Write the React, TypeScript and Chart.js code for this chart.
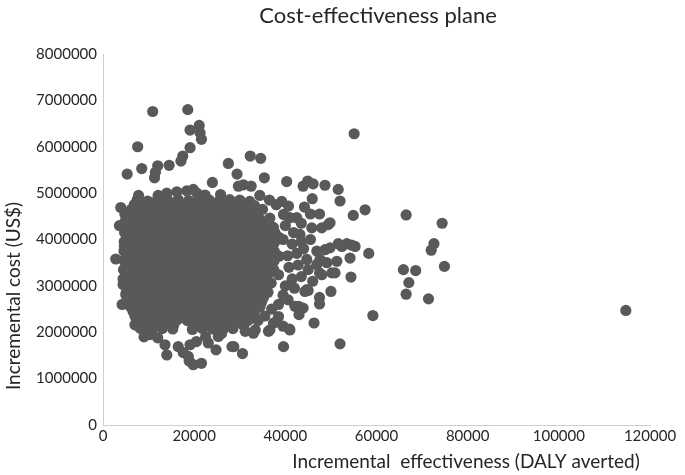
import React, { useEffect, useRef } from "react";
import { Chart, registerables } from "chart.js";

Chart.register(...registerables);

const chartTitle = "Cost-effectiveness plane";
const xAxisTitle = "Incremental  effectiveness (DALY averted)";
const yAxisTitle = "Incremental cost (US$)";

const xTicks = [0, 20000, 40000, 60000, 80000, 100000, 120000];
const yTicks = [0, 1000000, 2000000, 3000000, 4000000, 5000000, 6000000, 7000000, 8000000];

// [DALY averted, incremental cost US$]
const upperOutliers: [number, number][] = [
  [10900, 6760000], [18600, 6800000], [19100, 6360000], [21100, 6460000], [21300, 6300000],
  [21600, 6160000], [7600, 6000000], [19100, 5980000], [17500, 5800000], [17100, 5690000],
  [14500, 5600000], [12000, 5590000], [11500, 5450000], [11300, 5330000], [8500, 5530000],
  [5300, 5410000], [27500, 5640000], [29400, 5410000], [32300, 5800000], [34600, 5750000],
  [35400, 5330000], [24000, 5230000], [30800, 5180000], [32500, 5150000], [29700, 5150000],
  [40300, 5250000], [43900, 5150000], [44900, 5260000], [46100, 5200000], [48700, 5170000],
  [51600, 5080000], [52000, 4830000], [45900, 4880000], [44200, 4700000], [39200, 4820000],
  [40700, 4720000], [34400, 4950000], [57500, 4640000], [54900, 4520000], [55100, 6280000],
  [49800, 4360000], [19800, 5080000], [7800, 4950000], [12100, 4950000], [3900, 4690000],
  [5000, 4430000], [14000, 5000000], [16200, 5030000], [18400, 5050000], [20600, 5000000],
  [22400, 4960000], [25800, 4970000], [38000, 4750000], [36500, 4850000],
];

const rightOutliers: [number, number][] = [
  [66500, 4530000], [74400, 4350000], [72600, 3910000], [72000, 3770000], [74900, 3420000],
  [65900, 3350000], [68600, 3330000], [67100, 3070000], [66500, 2820000], [71400, 2720000],
  [114700, 2470000], [58300, 3700000], [54400, 3190000], [59200, 2360000],
];

const rightScatter: [number, number][] = [
  [42500, 4470000], [41000, 4470000], [39600, 4540000], [43200, 4110000], [45800, 4250000],
  [48000, 4250000], [49400, 4320000], [46900, 3750000], [48700, 3780000], [49800, 3820000],
  [51600, 3910000], [53500, 3910000], [54500, 3880000], [54200, 3600000], [52400, 3850000],
  [55300, 3850000], [47600, 3570000], [46900, 3460000], [49100, 3500000], [51300, 3530000],
  [44700, 3570000], [50200, 3280000], [47500, 3280000], [45000, 3350000], [50900, 3280000],
  [48000, 3240000], [44700, 2920000], [45000, 2900000], [50000, 2880000], [47500, 2750000],
  [47500, 2610000], [43900, 2520000], [42900, 2560000], [43000, 2380000], [42100, 2560000],
  [40600, 2700000], [46300, 2200000], [41000, 2050000], [39500, 2130000], [36300, 2020000],
  [33400, 2050000], [31200, 2020000], [38500, 2340000], [37400, 2200000], [44300, 2880000],
  [40000, 4300000], [41800, 4150000], [39500, 4000000], [41500, 3900000], [43500, 3950000],
  [45500, 4000000], [40500, 3650000], [42500, 3700000], [44000, 3800000], [40800, 3400000],
  [42800, 3450000], [41500, 3150000], [43500, 3200000], [40000, 3000000], [42000, 2950000],
  [39500, 2800000], [38500, 2600000], [37000, 2500000], [35500, 2350000], [34000, 2250000],
  [45500, 4550000], [47500, 4550000], [43500, 4350000], [46000, 3100000],
];

const lowerScatter: [number, number][] = [
  [2800, 3580000], [4700, 3850000], [5600, 4120000], [5700, 3350000], [4400, 3030000],
  [5000, 2810000], [6600, 2490000], [7000, 2160000], [8100, 2090000], [10300, 1950000],
  [13600, 1730000], [14000, 1510000], [16500, 1690000], [19100, 1730000], [18700, 1480000],
  [19800, 1300000], [21600, 1330000], [18900, 1380000], [24800, 1620000], [23100, 1770000],
  [25300, 1910000], [26000, 1970000], [33000, 1980000], [36600, 2050000], [37700, 2210000],
  [40900, 2070000], [52000, 1750000], [39600, 1690000], [30600, 1540000], [28700, 1690000],
  [12000, 1880000], [9000, 1900000], [17600, 1560000], [20500, 1800000], [22500, 1900000],
  [28300, 1690000], [3600, 4300000], [4200, 2600000],
];

const coreUpper: [number, number][] = [
  [7500, 4850000], [9800, 4830000], [12000, 4870000], [14200, 4850000], [16500, 4860000],
  [18800, 4840000], [21000, 4870000], [23300, 4850000], [25500, 4830000], [27800, 4860000],
  [30000, 4850000], [32200, 4820000],
  [6200, 4650000], [8300, 4670000], [10500, 4640000], [12700, 4660000], [15000, 4650000],
  [17200, 4630000], [19400, 4660000], [21600, 4650000], [23900, 4670000], [26100, 4640000],
  [28300, 4650000], [30600, 4660000], [32800, 4630000], [35000, 4650000],
  [5600, 4450000], [7700, 4440000], [9900, 4460000], [12100, 4450000], [14300, 4430000],
  [16600, 4460000], [18800, 4450000], [21000, 4440000], [23200, 4470000], [25500, 4450000],
  [27700, 4430000], [29900, 4460000], [32100, 4450000], [34400, 4440000], [36600, 4460000],
  [6300, 4250000], [8500, 4260000], [10700, 4240000], [12900, 4250000], [15100, 4270000],
  [17400, 4250000], [19600, 4230000], [21800, 4260000], [24000, 4250000], [26300, 4240000],
  [28500, 4260000], [30700, 4250000], [32900, 4230000], [35200, 4250000], [37400, 4260000],
  [5400, 4050000], [7600, 4060000], [9800, 4040000], [12000, 4050000], [14200, 4070000],
  [16500, 4050000], [18700, 4030000], [20900, 4060000], [23100, 4050000], [25400, 4040000],
  [27600, 4060000], [29800, 4050000], [32000, 4030000], [34300, 4050000], [36500, 4060000],
  [38700, 4040000],
  [6100, 3850000], [8300, 3860000], [10500, 3840000], [12700, 3850000], [14900, 3870000],
  [17200, 3850000], [19400, 3830000], [21600, 3860000], [23800, 3850000], [26100, 3840000],
  [28300, 3860000], [30500, 3850000], [32700, 3830000], [35000, 3850000], [37200, 3860000],
  [5300, 3650000], [7500, 3660000], [9700, 3640000], [11900, 3650000], [14100, 3670000],
  [16400, 3650000], [18600, 3630000], [20800, 3660000], [23000, 3650000], [25300, 3640000],
  [27500, 3660000], [29700, 3650000], [31900, 3630000], [34200, 3650000], [36400, 3660000],
  [38600, 3640000],
];

const coreUpperFill: [number, number][] = [
  [6850, 4750000], [9050, 4760000], [11250, 4740000], [13450, 4750000], [15650, 4770000],
  [17850, 4750000], [20050, 4730000], [22250, 4760000], [24450, 4750000], [26650, 4740000],
  [28850, 4760000], [31050, 4750000], [33250, 4730000],
  [4800, 4550000], [7000, 4560000], [9200, 4540000], [11400, 4550000], [13600, 4570000],
  [15800, 4550000], [18000, 4530000], [20200, 4560000], [22400, 4550000], [24600, 4540000],
  [26800, 4560000], [29000, 4550000], [31200, 4530000], [33400, 4550000],
  [4850, 4350000], [7050, 4360000], [9250, 4340000], [11450, 4350000], [13650, 4370000],
  [15850, 4350000], [18050, 4330000], [20250, 4360000], [22450, 4350000], [24650, 4340000],
  [26850, 4360000], [29050, 4350000], [31250, 4330000], [33450, 4350000], [35650, 4360000],
  [4750, 4150000], [6950, 4160000], [9150, 4140000], [11350, 4150000], [13550, 4170000],
  [15750, 4150000], [17950, 4130000], [20150, 4160000], [22350, 4150000], [24550, 4140000],
  [26750, 4160000], [28950, 4150000], [31150, 4130000], [33350, 4150000], [35550, 4160000],
  [37750, 4140000],
  [4650, 3950000], [6850, 3960000], [9050, 3940000], [11250, 3950000], [13450, 3970000],
  [15650, 3950000], [17850, 3930000], [20050, 3960000], [22250, 3950000], [24450, 3940000],
  [26650, 3960000], [28850, 3950000], [31050, 3930000], [33250, 3950000], [35450, 3960000],
  [37650, 3940000],
  [4600, 3750000], [6800, 3760000], [9000, 3740000], [11200, 3750000], [13400, 3770000],
  [15600, 3750000], [17800, 3730000], [20000, 3760000], [22200, 3750000], [24400, 3740000],
  [26600, 3760000], [28800, 3750000], [31000, 3730000], [33200, 3750000], [35400, 3760000],
  [37600, 3740000],
];

const coreLower: [number, number][] = [
  [6000, 3450000], [8200, 3460000], [10400, 3440000], [12600, 3450000], [14800, 3470000],
  [17100, 3450000], [19300, 3430000], [21500, 3460000], [23700, 3450000], [26000, 3440000],
  [28200, 3460000], [30400, 3450000], [32600, 3430000], [34900, 3450000], [37100, 3460000],
  [5200, 3250000], [7400, 3260000], [9600, 3240000], [11800, 3250000], [14000, 3270000],
  [16300, 3250000], [18500, 3230000], [20700, 3260000], [22900, 3250000], [25200, 3240000],
  [27400, 3260000], [29600, 3250000], [31800, 3230000], [34100, 3250000], [36300, 3260000],
  [38500, 3240000],
  [5800, 3050000], [8000, 3060000], [10200, 3040000], [12400, 3050000], [14600, 3070000],
  [16900, 3050000], [19100, 3030000], [21300, 3060000], [23500, 3050000], [25800, 3040000],
  [28000, 3060000], [30200, 3050000], [32400, 3030000], [34700, 3050000], [36900, 3060000],
  [5100, 2850000], [7300, 2860000], [9500, 2840000], [11700, 2850000], [13900, 2870000],
  [16200, 2850000], [18400, 2830000], [20600, 2860000], [22800, 2850000], [25100, 2840000],
  [27300, 2860000], [29500, 2850000], [31700, 2830000], [34000, 2850000], [36200, 2860000],
  [5900, 2650000], [8100, 2660000], [10300, 2640000], [12500, 2650000], [14700, 2670000],
  [17000, 2650000], [19200, 2630000], [21400, 2660000], [23600, 2650000], [25900, 2640000],
  [28100, 2660000], [30300, 2650000], [32500, 2630000], [34800, 2650000],
  [6600, 2450000], [8800, 2460000], [11000, 2440000], [13200, 2450000], [15400, 2470000],
  [17700, 2450000], [19900, 2430000], [22100, 2460000], [24300, 2450000], [26600, 2440000],
  [28800, 2460000], [31000, 2450000], [33200, 2430000],
  [7400, 2250000], [9600, 2260000], [11800, 2240000], [14000, 2250000], [16300, 2270000],
  [18500, 2250000], [20700, 2230000], [22900, 2260000], [25200, 2250000], [27400, 2240000],
  [29600, 2260000], [31800, 2250000],
  [8600, 2070000], [10800, 2060000], [13000, 2080000], [15300, 2070000], [19600, 2060000],
  [21800, 2080000], [24000, 2070000], [26300, 2060000], [28500, 2080000],
];

const coreLowerFill: [number, number][] = [
  [4550, 3550000], [6750, 3560000], [8950, 3540000], [11150, 3550000], [13350, 3570000],
  [15550, 3550000], [17750, 3530000], [19950, 3560000], [22150, 3550000], [24350, 3540000],
  [26550, 3560000], [28750, 3550000], [30950, 3530000], [33150, 3550000], [35350, 3560000],
  [37550, 3540000],
  [4500, 3350000], [6700, 3360000], [8900, 3340000], [11100, 3350000], [13300, 3370000],
  [15500, 3350000], [17700, 3330000], [19900, 3360000], [22100, 3350000], [24300, 3340000],
  [26500, 3360000], [28700, 3350000], [30900, 3330000], [33100, 3350000], [35300, 3360000],
  [37500, 3340000],
  [4400, 3150000], [6600, 3160000], [8800, 3140000], [11000, 3150000], [13200, 3170000],
  [15400, 3150000], [17600, 3130000], [19800, 3160000], [22000, 3150000], [24200, 3140000],
  [26400, 3160000], [28600, 3150000], [30800, 3130000], [33000, 3150000], [35200, 3160000],
  [6350, 2950000], [8550, 2960000], [10750, 2940000], [12950, 2950000], [15150, 2970000],
  [17350, 2950000], [19550, 2930000], [21750, 2960000], [23950, 2950000], [26150, 2940000],
  [28350, 2960000], [30550, 2950000], [32750, 2930000], [34950, 2950000],
  [6600, 2750000], [8800, 2760000], [11000, 2740000], [13200, 2750000], [15400, 2770000],
  [17600, 2750000], [19800, 2730000], [22000, 2760000], [24200, 2750000], [26400, 2740000],
  [28600, 2760000], [30800, 2750000], [33000, 2730000], [35200, 2750000],
  [6050, 2550000], [8250, 2560000], [10450, 2540000], [12650, 2550000], [14850, 2570000],
  [17050, 2550000], [19250, 2530000], [21450, 2560000], [23650, 2550000], [25850, 2540000],
  [28050, 2560000], [30250, 2550000], [32450, 2530000], [34450, 2550000],
  [7000, 2350000], [9200, 2360000], [11400, 2340000], [13600, 2350000], [15800, 2370000],
  [18000, 2350000], [20200, 2330000], [22400, 2360000], [24600, 2350000], [26800, 2340000],
  [29000, 2360000], [31200, 2350000], [33000, 2330000],
  [8900, 2150000], [11100, 2160000], [13300, 2140000], [15500, 2150000], [19900, 2160000],
  [22100, 2150000], [24300, 2140000], [26500, 2160000], [28700, 2150000], [30900, 2140000],
];

const allSamples: [number, number][] = [
  ...coreUpper,
  ...coreUpperFill,
  ...coreLower,
  ...coreLowerFill,
  ...upperOutliers,
  ...rightScatter,
  ...rightOutliers,
  ...lowerScatter,
];

const FONT = "Lato, 'Open Sans', sans-serif";
const TEXT_COLOR = "#262626";

const textPlugin = {
  id: "customTexts",
  afterDraw(chart: any) {
    const ctx = chart.ctx;
    ctx.save();
    ctx.fillStyle = TEXT_COLOR;
    ctx.textAlign = "center";
    ctx.textBaseline = "middle";
    ctx.font = `22px ${FONT}`;
    ctx.fillText(chartTitle, 378, 16);
    ctx.font = `19px ${FONT}`;
    ctx.fillText(xAxisTitle, 466, 462);
    ctx.translate(14, 296);
    ctx.rotate(-Math.PI / 2);
    ctx.fillText(yAxisTitle, 0, 0);
    ctx.restore();
  },
};

export default function App() {
  const canvasRef = useRef<HTMLCanvasElement | null>(null);

  useEffect(() => {
    document.body.style.margin = "0";
    const canvas = canvasRef.current;
    if (!canvas) return;
    const chart = new Chart(canvas, {
      type: "scatter",
      data: {
        datasets: [
          {
            label: "ICER",
            data: allSamples.map(([x, y]) => ({ x, y })),
            backgroundColor: "#595959",
            borderColor: "#595959",
            borderWidth: 0,
            pointRadius: 5.6,
            pointHoverRadius: 5.6,
          },
        ],
      },
      options: {
        responsive: false,
        animation: false,
        events: [],
        layout: { padding: { left: 0, right: 35, top: 54, bottom: 0 } },
        plugins: {
          legend: { display: false },
          title: { display: false },
          tooltip: { enabled: false },
        },
        scales: {
          x: {
            type: "linear",
            min: 0,
            max: 120000,
            afterBuildTicks: (s: any) => {
              s.ticks = xTicks.map((v) => ({ value: v }));
            },
            afterFit: (s: any) => {
              s.height = 50;
            },
            ticks: {
              font: { family: FONT, size: 15 },
              color: TEXT_COLOR,
              padding: 2,
              maxRotation: 0,
              callback: (v: any) => String(v),
            },
            grid: { display: false, drawTicks: false },
            border: { display: true, color: "#cfcfcf", width: 1 },
          },
          y: {
            type: "linear",
            min: 0,
            max: 8000000,
            afterBuildTicks: (s: any) => {
              s.ticks = yTicks.map((v) => ({ value: v }));
            },
            afterFit: (s: any) => {
              s.width = 103;
            },
            ticks: {
              font: { family: FONT, size: 15 },
              color: TEXT_COLOR,
              padding: 6,
              callback: (v: any) => String(v),
            },
            grid: { display: false, drawTicks: false },
            border: { display: true, color: "#cfcfcf", width: 1 },
          },
        },
      },
      plugins: [textPlugin],
    });
    return () => chart.destroy();
  }, []);

  return (
    <div style={{ position: "absolute", left: 0, top: 0, width: 685, height: 475, background: "#fff" }}>
      <canvas ref={canvasRef} width={685} height={475} style={{ width: 685, height: 475 }} />
    </div>
  );
}
